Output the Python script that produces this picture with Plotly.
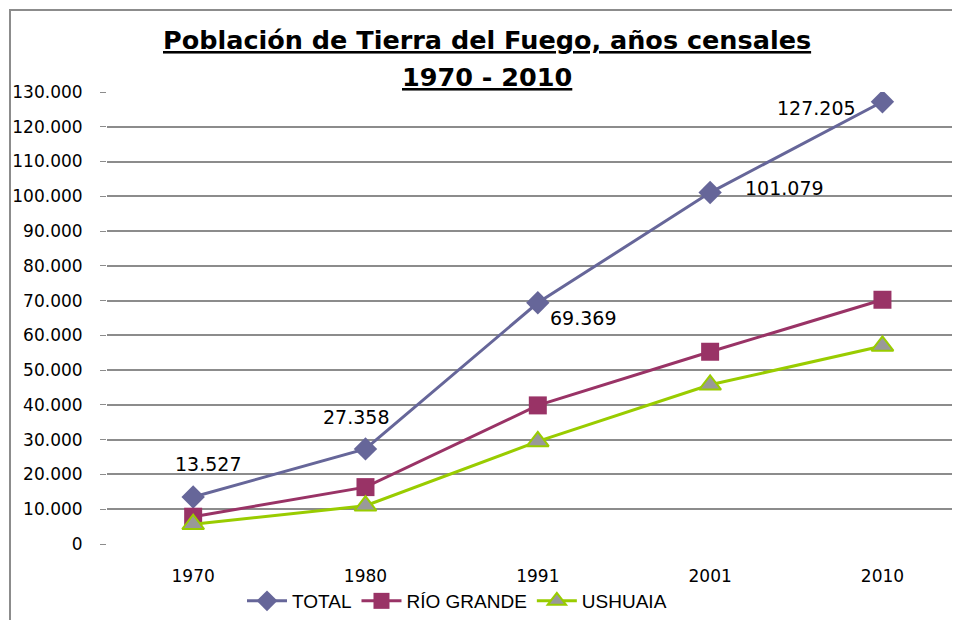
import plotly.graph_objects as go

years = ["1970", "1980", "1991", "2001", "2010"]
total = [13527, 27358, 69369, 101079, 127205]
rio_grande = [7850, 16360, 39864, 55294, 70249]
ushuaia = [5677, 10998, 29505, 45785, 56956]
y_ticks = list(range(0, 130001, 10000))
y_tick_labels = ["0"] + [f"{v:,}".replace(",", ".") for v in y_ticks[1:]]

label_offsets = [(15, 33), (-9, 32), (45, -15), (74, 5), (-66, -6)]

W, H = 952, 612          # page body has an 8px margin
L, R, T, B = 99, 0, 84, 76
pw, ph = W - L - R, H - T - B

fig = go.Figure()
fig.add_trace(go.Scatter(
    x=years, y=total, name="TOTAL", mode="lines+markers",
    line=dict(color="#666699", width=3),
    marker=dict(symbol="diamond", size=18, color="#666699"),
))
fig.add_trace(go.Scatter(
    x=years, y=rio_grande, name="RÍO GRANDE", mode="lines+markers",
    line=dict(color="#993366", width=3),
    marker=dict(symbol="square", size=18, color="#993366"),
))
fig.add_trace(go.Scatter(
    x=years, y=ushuaia, name="USHUAIA", mode="lines+markers",
    line=dict(color="#99CC00", width=3),
    marker=dict(symbol="triangle-up", size=19, color="#999999",
                line=dict(color="#99CC00", width=2)),
))

def px_x(p):
    return (p - 8 - L) / pw

def px_y(p):
    return (H - B - (p - 8)) / ph

annotations = []
for i, (v, (dx, dy)) in enumerate(zip(total, label_offsets)):
    annotations.append(dict(
        x=i, y=v, xref="x", yref="y", showarrow=False,
        xanchor="center", yanchor="middle",
        text=f"{v:,}".replace(",", "."), xshift=dx, yshift=dy,
        font=dict(family="DejaVu Sans", size=19, color="#000000"),
    ))
annotations.append(dict(
    x=px_x(487), y=px_y(40), xref="paper", yref="paper", showarrow=False,
    xanchor="center", yanchor="middle",
    text="<b><u>Población de Tierra del Fuego, años censales</u></b>",
    font=dict(family="DejaVu Sans", size=25.5, color="#000000"),
))
annotations.append(dict(
    x=px_x(487), y=px_y(77), xref="paper", yref="paper", showarrow=False,
    xanchor="center", yanchor="middle",
    text="<b><u>1970 - 2010</u></b>",
    font=dict(family="DejaVu Sans", size=25.5, color="#000000"),
))

fig.update_layout(
    width=W, height=H,
    margin=dict(l=L, r=R, t=T, b=B, autoexpand=False),
    paper_bgcolor="white", plot_bgcolor="white",
    showlegend=True,
    legend=dict(orientation="h", x=(457 - 8) / W, xref="container", xanchor="center",
                y=(H - (601 - 8)) / H, yref="container", yanchor="middle",
                bgcolor="rgba(0,0,0,0)",
                font=dict(family="Liberation Sans", size=19, color="#000000"),
                itemwidth=40, tracegroupgap=0),
    annotations=annotations,
    xaxis=dict(type="category", range=[-0.5, 4.45], showgrid=False, showline=False,
               zeroline=False, ticks="", automargin=False,
               tickfont=dict(family="DejaVu Sans", size=17, color="#000000"),
               ticklabelstandoff=20),
    yaxis=dict(range=[0, 130000], tickvals=y_ticks, ticktext=y_tick_labels,
               showgrid=True, gridcolor="#8c8c8c", gridwidth=1.5, zeroline=False,
               showline=False, ticks="outside", ticklen=6, tickcolor="#8c8c8c",
               automargin=False,
               tickfont=dict(family="DejaVu Sans", size=17, color="#000000"),
               ticklabelstandoff=14),
    shapes=[dict(type="rect", xref="paper", yref="paper",
                 x0=px_x(10), x1=px_x(990),
                 y0=px_y(650), y1=px_y(10),
                 line=dict(color="#8c8c8c", width=2), layer="below")],
)

fig.write_html("out.html")
